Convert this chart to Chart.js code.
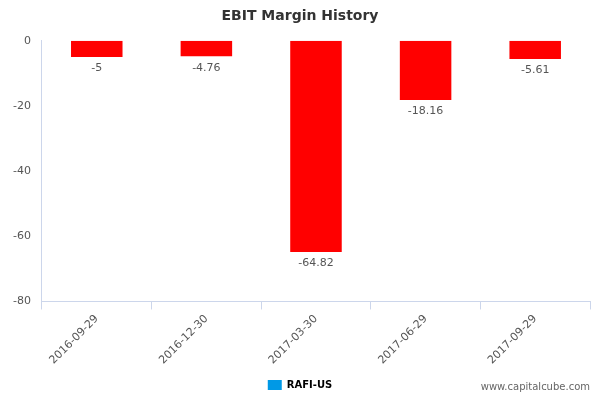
<!DOCTYPE html>
<html><head><meta charset="utf-8">
<script src="https://cdn.jsdelivr.net/npm/chart.js@4"></script>
<style>body{margin:0;background:#fff}#w{position:relative;width:600px;height:400px}
#wm{position:absolute;right:10px;bottom:8px;font:10px "DejaVu Sans",sans-serif;color:#666}</style>
</head><body><div id="w"><canvas id="c" width="600" height="400"></canvas><div id="wm">www.capitalcube.com</div></div>
<script>
const categories=["2016-09-29","2016-12-30","2017-03-30","2017-06-29","2017-09-29"];
const values=[-5,-4.76,-64.82,-18.16,-5.61];
const seriesName="RAFI-US";
const labelPlugin={id:"lbl",afterDatasetsDraw(ch){const ctx=ch.ctx;const m=ch.getDatasetMeta(0);
ctx.save();ctx.font='11px "DejaVu Sans",sans-serif';ctx.fillStyle="#555";ctx.textAlign="center";ctx.textBaseline="top";
m.data.forEach((b,i)=>ctx.fillText(String(values[i]),b.x,b.y+6));ctx.restore();}};
new Chart(document.getElementById("c"),{type:"bar",
data:{labels:categories,datasets:[{label:seriesName,data:values,backgroundColor:"#ff0000",categoryPercentage:1,barPercentage:0.47}]},
options:{responsive:false,animation:false,
layout:{padding:{left:10,right:10,top:0,bottom:0}},
plugins:{title:{display:true,text:"EBIT Margin History",font:{family:"DejaVu Sans",size:14,weight:"bold"},color:"#333",padding:{top:8,bottom:16}},
legend:{position:"bottom",labels:{boxWidth:14,boxHeight:10,font:{family:"DejaVu Sans",size:10,weight:"bold"},color:"#333",
generateLabels:()=>[{text:seriesName,fillStyle:"#0099e6",strokeStyle:"#0099e6",lineWidth:0}]}},
tooltip:{enabled:false}},
scales:{y:{min:-80,max:0,ticks:{stepSize:20,font:{family:"DejaVu Sans",size:11},color:"#555"},grid:{display:false},border:{display:true,color:"#ccd6eb"}},
x:{ticks:{maxRotation:45,minRotation:45,font:{family:"DejaVu Sans",size:11},color:"#555"},grid:{display:true,offset:true,drawOnChartArea:false,color:"#ccd6eb",tickLength:8},border:{color:"#ccd6eb"}}}},
plugins:[labelPlugin]});
</script></body></html>
